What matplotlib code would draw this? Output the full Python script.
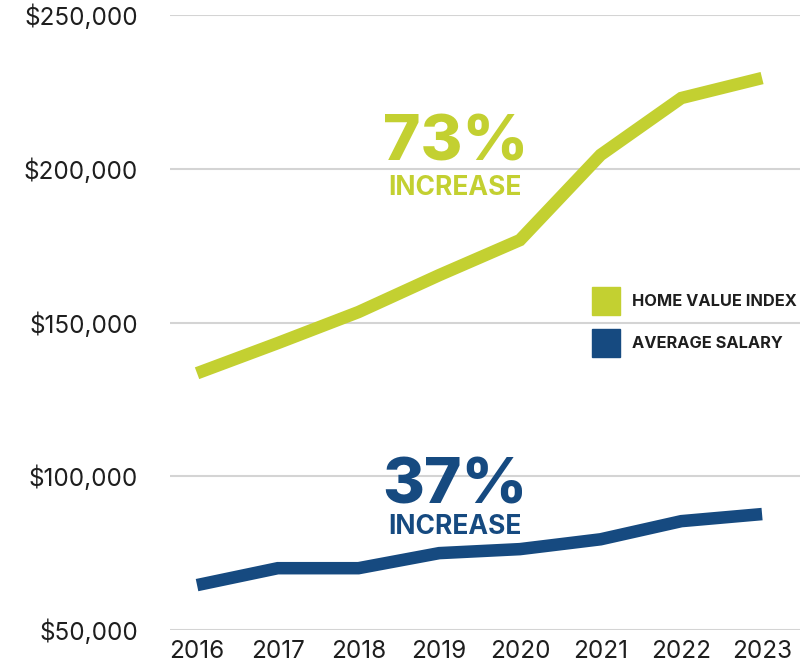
import matplotlib.pyplot as plt
from matplotlib.patches import Rectangle
from matplotlib.ticker import FuncFormatter

years = [2016, 2017, 2018, 2019, 2020, 2021, 2022, 2023]
home_value = [133500, 143300, 153400, 165400, 176800, 204500, 223000, 229500]
avg_salary = [64600, 70100, 70100, 75000, 76300, 79500, 85400, 87700]
y_ticks = [50000, 100000, 150000, 200000, 250000]

GREEN = "#c3d031"
BLUE = "#164a80"
TEXT = "#1e1e1e"
GRID = "#d4d4d4"
FONT = "Inter"

W, H = 805, 665
fig = plt.figure(figsize=(W / 100, H / 100), dpi=100)
ax = fig.add_axes([170 / W, 1 - 630 / H, 630 / W, 615 / H])

ax.plot(years, home_value, color=GREEN, lw=9, solid_joinstyle="miter",
        solid_capstyle="butt", zorder=3)
ax.plot(years, avg_salary, color=BLUE, lw=9, solid_joinstyle="miter",
        solid_capstyle="butt", zorder=3)

ax.set_xlim(2015.665, 2023.47)
ax.set_ylim(50000, 250000)
ax.set_yticks(y_ticks)
ax.set_xticks(years)
ax.yaxis.set_major_formatter(FuncFormatter(lambda v, p: f"${v:,.0f}"))
ax.grid(axis="y", color=GRID, lw=1.5)
ax.set_axisbelow(True)
for s in ax.spines.values():
    s.set_visible(False)
ax.tick_params(length=0)
ax.tick_params(axis="y", pad=23, labelsize=17.5, labelcolor=TEXT)
ax.tick_params(axis="x", pad=7, labelsize=17.5, labelcolor=TEXT)
for lab in ax.get_xticklabels() + ax.get_yticklabels():
    lab.set_family(FONT)

# percentage callouts
ax.text(2019.2, 208200, "73%", color=GREEN, fontsize=46, fontweight="heavy",
        family=FONT, ha="center", va="center")
ax.text(2019.2, 193900, "INCREASE", color=GREEN, fontsize=19, fontweight="bold",
        family=FONT, ha="center", va="center")
ax.text(2019.2, 96600, "37%", color=BLUE, fontsize=46, fontweight="heavy",
        family=FONT, ha="center", va="center")
ax.text(2019.2, 83500, "INCREASE", color=BLUE, fontsize=19, fontweight="bold",
        family=FONT, ha="center", va="center")

# legend drawn by hand
legend = [("HOME VALUE INDEX", GREEN, 301), ("AVERAGE SALARY", BLUE, 343)]
for label, color, yc in legend:
    fig.add_artist(Rectangle((592 / W, 1 - (yc + 14) / H), 28 / W, 28 / H,
                             transform=fig.transFigure, color=color))
    fig.text(632 / W, 1 - yc / H, label, color=TEXT, fontsize=11.8,
             fontweight="bold", family=FONT, va="center")

fig.savefig("out.png", dpi=100)
